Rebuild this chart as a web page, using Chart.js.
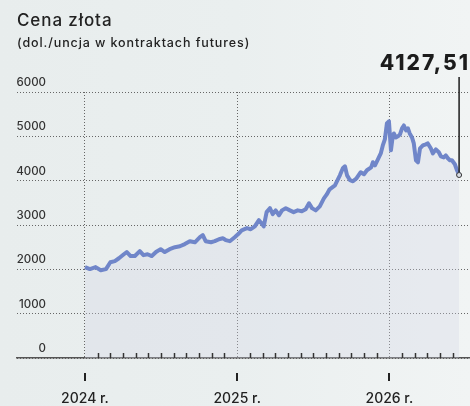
<!DOCTYPE html>
<html lang="pl">
<head>
<meta charset="utf-8">
<title>Cena złota</title>
<script src="https://cdn.jsdelivr.net/npm/chart.js@4"></script>
<style>
  html, body { margin: 0; padding: 0; }
  body {
    width: 470px; height: 406px; overflow: hidden; position: relative;
    background: linear-gradient(90deg, #e8eded 0%, #eaefef 50%, #f1f4f4 100%);
    font-family: Inter, "Noto Sans", sans-serif; color: #222;
  }
  #wrap { position: absolute; left: 0; top: 0; width: 470px; height: 406px; }
  .title { position: absolute; left: 17px; top: 12px; font-size: 17px; font-weight: 500; line-height: 1; letter-spacing: 0.9px; }
  .subtitle { position: absolute; left: 17px; top: 37px; font-size: 12.5px; font-weight: 500; line-height: 1; letter-spacing: 0.9px; }
  .last-value { position: absolute; right: 0px; top: 52px; font-size: 21px; font-weight: 800; line-height: 1; letter-spacing: 2px; color: #1c1c1c; }
</style>
</head>
<body>
<div id="wrap"><canvas id="gold-chart"></canvas></div>
<div class="title">Cena złota</div>
<div class="subtitle">(dol./uncja w kontraktach futures)</div>
<div class="last-value" id="last-value"></div>
<script>
// Gold futures price
const dates = [
    '2024-01-01', '2024-01-13', '2024-01-27', '2024-02-08', '2024-02-20', '2024-03-01', '2024-03-12', '2024-03-22',
    '2024-04-03', '2024-04-10', '2024-04-19', '2024-04-29', '2024-05-11', '2024-05-20', '2024-05-30', '2024-06-09',
    '2024-06-19', '2024-06-30', '2024-07-10', '2024-07-22', '2024-08-04', '2024-08-16', '2024-08-28', '2024-09-09',
    '2024-09-21', '2024-10-03', '2024-10-10', '2024-10-17', '2024-10-30', '2024-11-08', '2024-11-18', '2024-11-27',
    '2024-12-04', '2024-12-14', '2024-12-26', '2025-01-03', '2025-01-12', '2025-01-25', '2025-02-03', '2025-02-12',
    '2025-02-21', '2025-02-28', '2025-03-04', '2025-03-11', '2025-03-19', '2025-03-26', '2025-04-02', '2025-04-10',
    '2025-04-17', '2025-04-26', '2025-05-06', '2025-05-15', '2025-05-25', '2025-06-04', '2025-06-13', '2025-06-21',
    '2025-06-28', '2025-07-07', '2025-07-17', '2025-07-27', '2025-08-03', '2025-08-10', '2025-08-23', '2025-09-04',
    '2025-09-11', '2025-09-16', '2025-09-21', '2025-09-28', '2025-10-05', '2025-10-14', '2025-10-24', '2025-11-01',
    '2025-11-08', '2025-11-18', '2025-11-22', '2025-11-27', '2025-12-04', '2025-12-11', '2025-12-16', '2025-12-21',
    '2025-12-26', '2025-12-31', '2026-01-05', '2026-01-08', '2026-01-12', '2026-01-17', '2026-01-22', '2026-01-27',
    '2026-02-01', '2026-02-05', '2026-02-10', '2026-02-14', '2026-02-18', '2026-02-23', '2026-02-27', '2026-03-04',
    '2026-03-09', '2026-03-14', '2026-03-21', '2026-03-28', '2026-04-02', '2026-04-09', '2026-04-14', '2026-04-21',
    '2026-04-28', '2026-05-03', '2026-05-10', '2026-05-15', '2026-05-20', '2026-05-25', '2026-05-30', '2026-06-06',
    '2026-06-11', '2026-06-16'
];
const prices = [
    2050, 2005, 2050, 1980, 2005, 2160, 2185, 2250,
    2340, 2390, 2300, 2300, 2410, 2320, 2340, 2300,
    2390, 2455, 2390, 2455, 2500, 2520, 2570, 2635,
    2610, 2725, 2770, 2635, 2610, 2635, 2680, 2700,
    2660, 2635, 2725, 2790, 2880, 2930, 2905, 2970,
    3110, 3020, 2970, 3290, 3380, 3245, 3330, 3220,
    3330, 3380, 3330, 3290, 3330, 3310, 3355, 3490,
    3380, 3330, 3420, 3600, 3690, 3805, 3895, 4120,
    4280, 4325, 4120, 4010, 3985, 4055, 4190, 4145,
    4235, 4300, 4415, 4345, 4480, 4615, 4795, 4930,
    5290, 5340, 4685, 4910, 5065, 4975, 5000, 5045,
    5180, 5245, 5135, 5180, 5065, 4975, 4840, 4460,
    4415, 4730, 4795, 4820, 4840, 4730, 4615, 4705,
    4640, 4550, 4525, 4570, 4505, 4460, 4460, 4370,
    4235, 4127.51
];
const yearLabels = ['2024 r.', '2025 r.', '2026 r.'];
const yearStarts = [0, 12, 24];          // months since Jan 2024
const monthTicks = [1, 2, 3, 4, 5, 6, 7, 8, 9, 10, 11, 13, 14, 15, 16, 17, 18, 19, 20, 21, 22, 23, 25, 26, 27, 28, 29];
const yTicks = [0, 1000, 2000, 3000, 4000, 5000, 6000];

function toMonths(d) {
    const [y, m, day] = d.split('-').map(Number);
    const daysInMonth = new Date(y, m, 0).getDate();
    return (y - 2024) * 12 + (m - 1) + (day - 1) / daysInMonth;
}

function formatPl(num) {
    return num.toFixed(2).replace('.', ',');
}

const points = dates.map((d, i) => ({ x: toMonths(d), y: prices[i] }));
const lastIndex = points.length - 1;

// Axis decorations: y labels above gridlines, month ticks, year marks, pointer line
const decorations = {
    id: 'decorations',
    afterDatasetsDraw(chart) {
        const { ctx, chartArea, scales: { x, y } } = chart;
        ctx.save();

        ctx.fillStyle = '#333';
        ctx.font = '500 11.5px Inter, "Noto Sans", sans-serif';
        ctx.textAlign = 'right';
        ctx.textBaseline = 'alphabetic';
        yTicks.forEach(v => {
            ctx.fillText(String(v), 46, y.getPixelForValue(v) - 6);
        });

        ctx.strokeStyle = '#333';
        ctx.lineWidth = 1.5;
        monthTicks.forEach(m => {
            const px = Math.round(x.getPixelForValue(m)) + 0.5;
            ctx.beginPath();
            ctx.moveTo(px, chartArea.bottom);
            ctx.lineTo(px, chartArea.bottom - 5);
            ctx.stroke();
        });

        ctx.fillStyle = '#222';
        ctx.font = '500 14px Inter, "Noto Sans", sans-serif';
        ctx.textAlign = 'center';
        yearStarts.forEach((m, i) => {
            const px = x.getPixelForValue(m);
            ctx.fillRect(Math.round(px) - 1, chartArea.bottom + 15, 2, 8);
            ctx.fillText(yearLabels[i], px, chartArea.bottom + 45);
        });

        const last = chart.getDatasetMeta(0).data[lastIndex];
        ctx.strokeStyle = '#1c1c1c';
        ctx.lineWidth = 1.5;
        ctx.beginPath();
        ctx.moveTo(last.x, last.y - 3);
        ctx.lineTo(last.x, 77);
        ctx.stroke();

        ctx.restore();
    }
};

document.getElementById('last-value').textContent = formatPl(prices[lastIndex]);

new Chart(document.getElementById('gold-chart'), {
    type: 'line',
    data: {
        datasets: [{
            label: 'Cena złota',
            data: points,
            borderColor: '#7086c9',
            borderWidth: 4,
            borderJoinStyle: 'round',
            backgroundColor: 'rgba(212, 215, 230, 0.32)',
            fill: 'origin',
            tension: 0,
            pointRadius: ctx => ctx.dataIndex === lastIndex ? 2.5 : 0,
            pointBackgroundColor: '#d9dde6',
            pointBorderColor: '#333',
            pointBorderWidth: 1
        }]
    },
    options: {
        responsive: true,
        maintainAspectRatio: false,
        animation: false,
        // no auto padding, so the grid runs to the right edge
        layout: { autoPadding: false, padding: { top: 92, left: 17, right: 0, bottom: 0 } },
        scales: {
            x: {
                type: 'linear',
                min: -5.36,
                max: 30.36,
                afterBuildTicks: scale => { scale.ticks = yearStarts.map(v => ({ value: v })); },
                afterFit: scale => { scale.height = 48; },
                ticks: { display: false },
                grid: { color: '#666', lineWidth: 1, drawTicks: false },
                border: { display: true, color: '#555', width: 1.5, dash: [1, 2] }
            },
            y: {
                min: 0,
                max: 6000,
                afterBuildTicks: scale => { scale.ticks = yTicks.map(v => ({ value: v })); },
                afterFit: scale => { scale.width = 0; },
                ticks: { display: false },
                grid: { color: '#666', lineWidth: 1, drawTicks: false },
                border: { display: false, dash: [1, 2] }
            }
        },
        plugins: {
            legend: { display: false },
            tooltip: { enabled: false }
        }
    },
    plugins: [decorations]
});
</script>
</body>
</html>
